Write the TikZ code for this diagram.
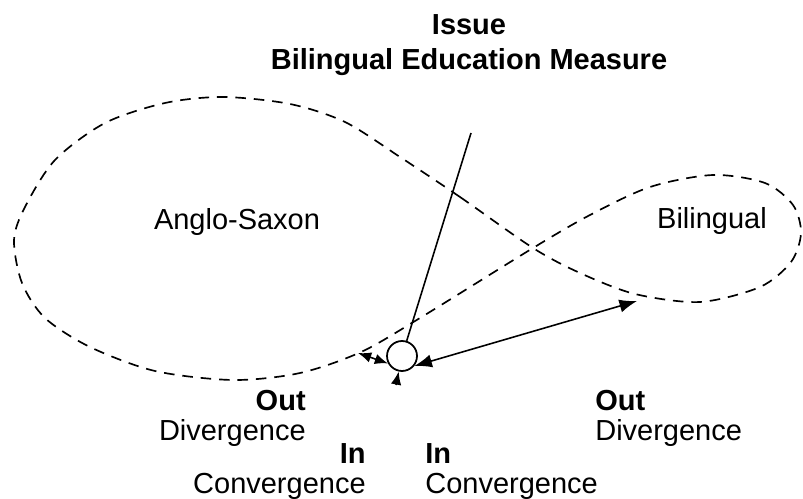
\documentclass[tikz,border=0pt]{standalone}
\usepackage{fontspec}
\setmainfont{Liberation Sans}
\usetikzlibrary{arrows.meta}

\begin{document}
\begin{tikzpicture}[
        x=0.02cm, y=-0.02cm,
        every node/.style={inner sep=0pt,font=\fontsize{16.5}{17}\selectfont},
        lobe/.style={dashed,dash pattern=on 6pt off 4.5pt,line width=0.95pt},
        pivot/.style={circle,draw,line width=1pt,minimum size=0.6cm,fill=white},
        tag/.style={align=left},
        tagr/.style={align=right},
        arrow/.style={{Latex[length=10pt,width=7.5pt]}-{Latex[length=10pt,width=7.5pt]},line width=0.9pt},
        shortarrow/.style={{Latex[length=7.5pt,width=6pt]}-{Latex[length=7.5pt,width=6pt]},line width=0.9pt}
      ]
        \useasboundingbox (0,0) rectangle (803,499);
        % figure-eight of the two camps
        \draw[lobe] plot[smooth cycle] coordinates {
          (533,248) (460,197) (400,157) (345,122) (290,104) (223,97) (165,103)
          (105,123) (55,160) (25,207) (14,240) (22,283) (45,318) (90,347)
          (155,371) (233,380) (300,373) (361,352) (420,318) (533,248)
          (590,215) (650,187) (713,175) (765,183) (793,205) (801,233)
          (791,262) (760,287) (700,302) (635,294) (580,273)};
        \node[font=\fontsize{16.5}{20}\selectfont\bfseries,align=center,anchor=base] (issue) at (469,70)
          {Issue\\Bilingual Education Measure};
        \node[anchor=base] (anglo) at (237,230) {Anglo-Saxon};
        \node[anchor=base] (biling) at (712,229) {Bilingual};
        \coordinate (issuetop) at (471,133);
        \coordinate (bitip) at (637,301);
        \coordinate (astip) at (358,353);
        \coordinate (inbase) at (396,385);
        \node[pivot] (voter) at (402,356) {};
        \draw[line width=0.9pt] (issuetop) -- (voter);
        \draw[arrow] (voter.-39) -- (bitip);
        \draw[shortarrow] (astip) -- (voter.208);
        \draw[-{Latex[length=7.5pt,width=6pt]},line width=0.9pt] (inbase) -- (voter.258);
        % labels below
        \node[tagr,anchor=base east] (outl) at (306,440) {\textbf{Out}\\Divergence};
        \node[tagr,anchor=base east] (inl) at (366,493) {\textbf{In}\\Convergence};
        \node[tag,anchor=base west] (inr) at (425,493) {\textbf{In}\\Convergence};
        \node[tag,anchor=base west] (outr) at (595,440) {\textbf{Out}\\Divergence};
      \end{tikzpicture}
\end{document}
